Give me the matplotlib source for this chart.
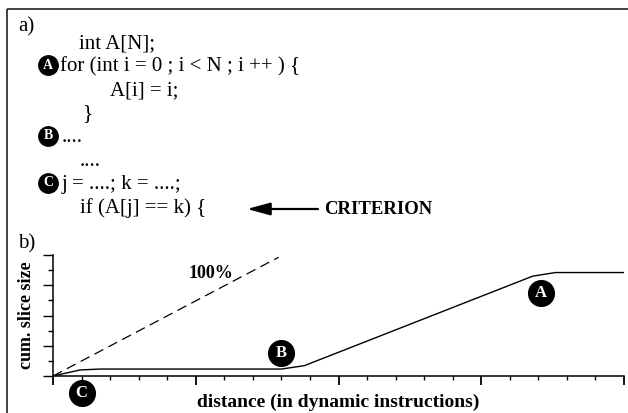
import matplotlib.pyplot as plt
from matplotlib.patches import Rectangle

plt.rcParams['font.family'] = ['Liberation Serif', 'DejaVu Serif']

# cumulative slice size against dynamic distance
curve_x = [0, 0.95, 1.65, 8.0, 8.8, 16.8, 17.6, 20]
curve_y = [0, 0.40, 0.46, 0.46, 0.68, 6.60, 6.84, 6.84]
ideal_x = [0, 7.9]
ideal_y = [0, 7.85]

# labelled points in the plot
point_names = ['A', 'B', 'C']
point_x = [17.1, 8.0, 1.0]
point_y = [5.5, 1.5, -1.1]

# code listing, (indent x in pixels, text)
code_lines = [
    (79, "int A[N];"),
    (60, "for (int i = 0 ; i < N ; i ++ ) {"),
    (110, "A[i] = i;"),
    (82, "}"),
    (62, "...."),
    (80, "...."),
    (62, "j = ....; k = ....;"),
    (80, "if (A[j] == k) {"),
]
code_marks = {1: 'A', 4: 'B', 6: 'C'}

fig = plt.figure(figsize=(6.28, 4.13), dpi=100)

# overlay in pixel coordinates for panel a)
ov = fig.add_axes([0, 0, 1, 1])
ov.set_xlim(0, 628)
ov.set_ylim(413, 0)
ov.axis('off')
ov.add_patch(Rectangle((7, 9), 700, 500, fill=False, lw=1.2, ec='#222222'))

ov.text(18, 31, "a)", fontsize=15, va='baseline')
ov.text(18, 248, "b)", fontsize=15, va='baseline')

y0, step = 48, 23.5
for i, (x, s) in enumerate(code_lines):
    yb = y0 + i * step
    ov.text(x, yb, s, fontsize=15, va='baseline')
    if i in code_marks:
        ov.plot(48, yb - 6.5, 'o', ms=14, color='black')
        ov.text(48, yb - 6.3, code_marks[i], color='white', fontsize=10,
                fontweight='bold', ha='center', va='center')

ov.annotate('', xy=(247, 209), xytext=(318, 209),
            arrowprops=dict(arrowstyle='-|>,head_length=1.4,head_width=0.38',
                            lw=1.6, color='black', shrinkA=0, shrinkB=0))
ov.text(324, 210, "CRITERION", fontsize=13.5, fontweight='bold', va='center')

# panel b)
ax = fig.add_axes([53 / 628, (413 - 376) / 413, (624 - 53) / 628, (376 - 255) / 413])
ax.set_facecolor('none')
ax.plot(curve_x, curve_y, color='black', lw=1.0)
ax.plot(ideal_x, ideal_y, color='black', lw=0.9, dashes=(8, 4.5))
ax.set_xlim(0, 20)
ax.set_ylim(0, 8)
for side in ['top', 'right']:
    ax.spines[side].set_visible(False)
for side in ['left', 'bottom']:
    ax.spines[side].set_linewidth(1.1)
ax.set_xticks(range(0, 21, 5))
ax.set_xticks(range(0, 21), minor=True)
ax.set_yticks(range(0, 9, 2))
ax.set_yticks(range(0, 9), minor=True)
ax.tick_params(axis='x', which='major', length=6.5, width=1.3, direction='out', labelbottom=False)
ax.tick_params(axis='x', which='minor', length=3, width=1.0, direction='out')
ax.tick_params(axis='y', which='major', length=7, width=1.0, direction='out', labelleft=False)
ax.tick_params(axis='y', which='minor', length=3.5, width=1.0, direction='out')

ax.text(5.55, 6.8, "100%", fontsize=13, fontweight='bold', ha='center', va='center')
for name, px, py in zip(point_names, point_x, point_y):
    ax.plot(px, py, 'o', ms=18.5, color='black', clip_on=False)
    ax.text(px, py, name, color='white', fontsize=12, fontweight='bold',
            ha='center', va='center', clip_on=False)

ax.set_xlabel("distance (in dynamic instructions)", fontsize=14, fontweight='bold', va='center')
ax.xaxis.set_label_coords(0.5, (376 - 402) / 121)
ax.set_ylabel("cum. slice size", fontsize=13, fontweight='bold', va='center')
ax.yaxis.set_label_coords((27 - 53) / 571, 0.504)

fig.savefig("out.png", dpi=100)
